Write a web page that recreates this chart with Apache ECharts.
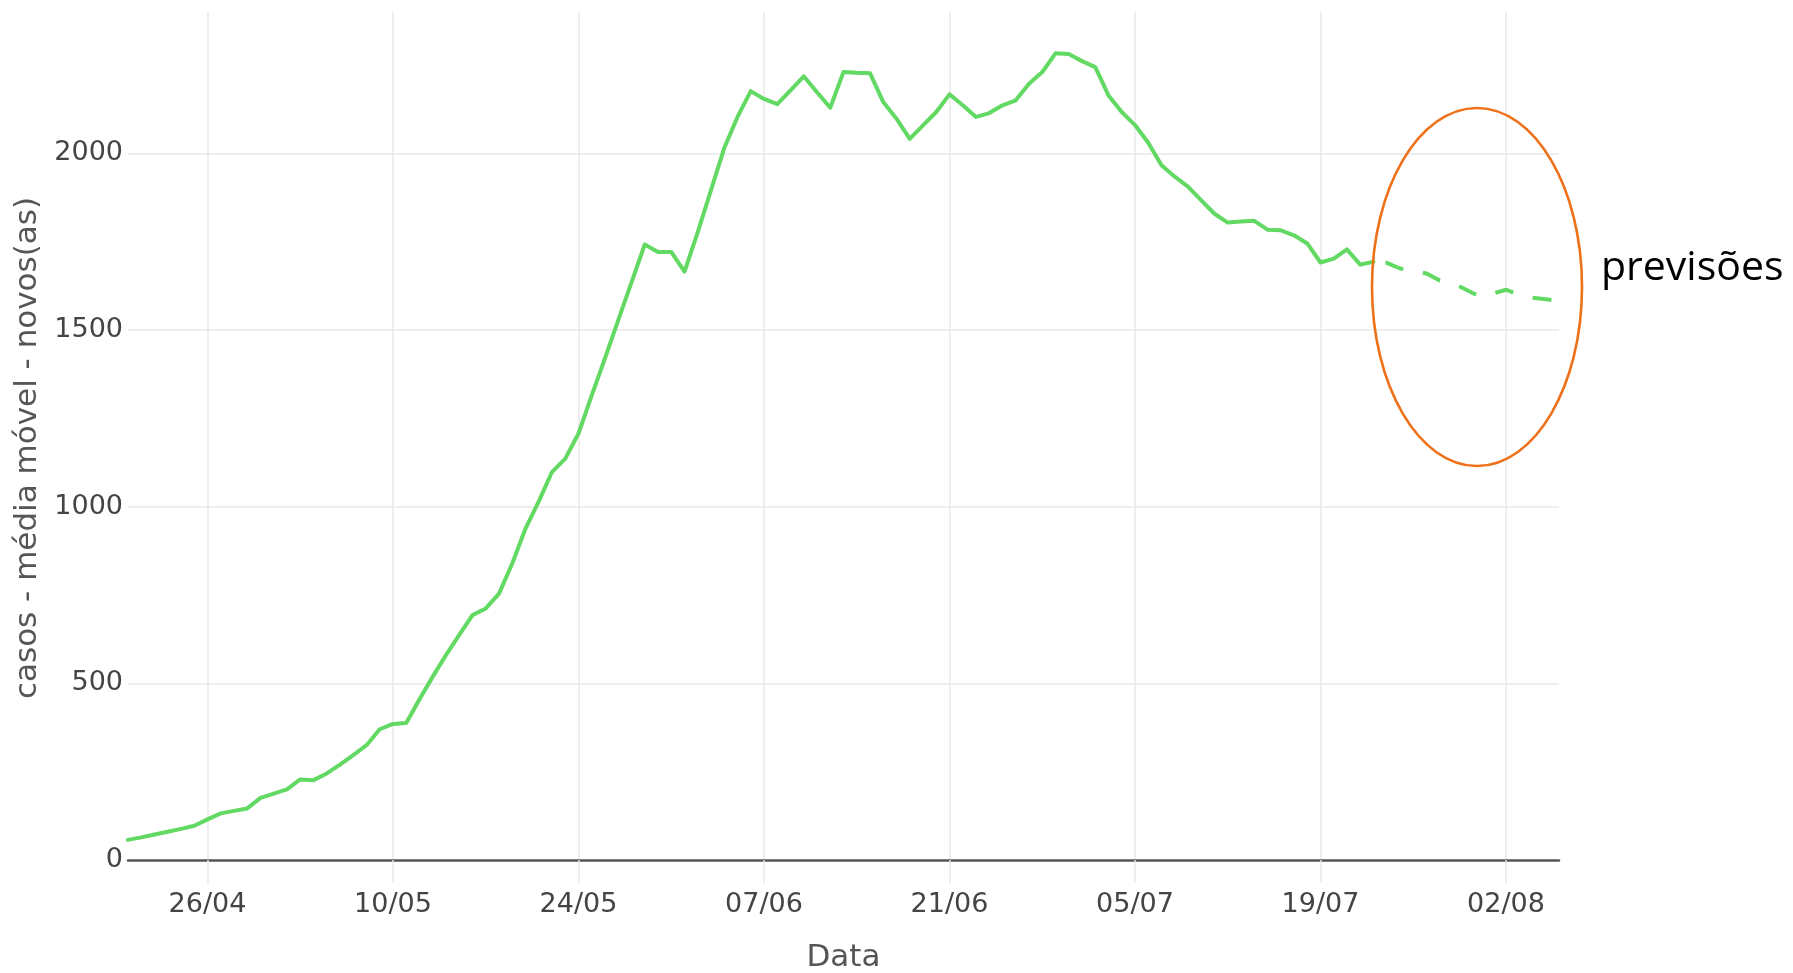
<!DOCTYPE html>
<html>
<head>
<meta charset="utf-8">
<script src="https://cdn.jsdelivr.net/npm/echarts@6/dist/echarts.min.js"></script>
<style>
    html, body { margin: 0; padding: 0; background: #fff; }
    #chart { width: 1793px; height: 973px; }
</style>
</head>
<body>
<div id="chart"></div>
<script>
// daily moving average of new cases, 20/04 .. 23/07
var CASOS = [
    57, 64, 72, 80, 88, 97, 115, 132, 139, 146,
    176, 188, 200, 228, 226, 245, 270, 297, 325, 370,
    385, 388, 455, 519, 580, 637, 693, 712, 754, 839,
    938, 1015, 1098, 1136, 1207, 1315, 1420, 1528, 1635, 1742,
    1721, 1721, 1665, 1777, 1896, 2015, 2103, 2176, 2154, 2139,
    2178, 2218, 2173, 2129, 2230, 2228, 2227, 2145, 2098, 2041,
    2079, 2117, 2167, 2136, 2103, 2114, 2136, 2150, 2197, 2230,
    2283, 2281, 2261, 2244, 2164, 2117, 2080, 2030, 1966, 1934,
    1906, 1867, 1829, 1804, 1807, 1809, 1784, 1782, 1768, 1745,
    1691, 1702, 1728, 1685, 1693
];
// forecast, 23/07 .. 06/08
var PREVISOES = [1693, 1690, 1674, 1667, 1660, 1640, 1632, 1614, 1595, 1603, 1614, 1599, 1591, 1587, 1582];

var TICK_LABELS = ['26/04', '10/05', '24/05', '07/06', '21/06', '05/07', '19/07', '02/08'];
var Y_TICKS = [0, 500, 1000, 1500, 2000];

var FIRST_DAY = new Date(2020, 3, 20);
var N_DAYS = CASOS.length + PREVISOES.length - 1;

var GREEN = '#62d962';
var GRID_COLOR = '#e9e9e9';
var FONT = 'DejaVu Sans';

function two(n){
    return (n < 10 ? '0' : '') + n;
}

function build_dates(start, n){
    var out = [];
    for (var i = 0; i < n; i++) {
        var d = new Date(start.getFullYear(), start.getMonth(), start.getDate() + i);
        out.push(two(d.getDate()) + '/' + two(d.getMonth() + 1));
    }
    return out;
}

function pad_series(values, offset, n){
    var out = [];
    for (var i = 0; i < n; i++) {
        var j = i - offset;
        out.push(j >= 0 && j < values.length ? values[j] : null);
    }
    return out;
}

function is_tick(index, value){
    return TICK_LABELS.indexOf(value) >= 0;
}

var dates = build_dates(FIRST_DAY, N_DAYS);

var options = {
    animation: false,
    grid: { left: 128, right: 234, top: 12, bottom: 113, containLabel: false, outerBoundsMode: 'none' },
    xAxis: {
        type: 'category',
        data: dates,
        boundaryGap: false,
        name: 'Data',
        nameLocation: 'middle',
        nameGap: 82,
        nameTextStyle: { fontFamily: FONT, fontSize: 31, color: '#555' },
        axisLine: { show: true, lineStyle: { color: '#555', width: 2.5 } },
        axisTick: { show: true, interval: is_tick, length: 23, lineStyle: { color: GRID_COLOR, width: 1.5 } },
        axisLabel: { interval: is_tick, margin: 31, fontFamily: FONT, fontSize: 27, color: '#444' },
        splitLine: { show: true, interval: is_tick, lineStyle: { color: GRID_COLOR, width: 1.5 } }
    },
    yAxis: {
        type: 'value',
        min: Y_TICKS[0],
        max: 2400,
        interval: Y_TICKS[1] - Y_TICKS[0],
        name: 'casos - média móvel - novos(as)',
        nameLocation: 'middle',
        nameGap: 80,
        nameRotate: 90,
        nameTextStyle: { fontFamily: FONT, fontSize: 31, color: '#555', padding: [0, 24, 0, 0] },
        axisLine: { show: false },
        axisTick: { show: false },
        axisLabel: {
            margin: 5, fontFamily: FONT, fontSize: 27, color: '#444',
            showMaxLabel: false,
            formatter: function (v) { return Y_TICKS.indexOf(v) >= 0 ? String(v) : ''; }
        },
        splitLine: { show: true, showMinLine: false, showMaxLine: false, lineStyle: { color: GRID_COLOR, width: 1.5 } }
    },
    series: [
        {
            type: 'line',
            name: 'casos',
            data: pad_series(CASOS, 0, N_DAYS),
            symbol: 'none',
            lineStyle: { color: GREEN, width: 4, cap: 'round', join: 'round' },
            z: 3
        },
        {
            type: 'line',
            name: 'previsões',
            data: pad_series(PREVISOES, CASOS.length - 1, N_DAYS),
            symbol: 'none',
            lineStyle: { color: GREEN, width: 4, type: [19, 20], dashOffset: 27, join: 'round' },
            z: 3
        }
    ],
    graphic: [
        {
            type: 'ellipse',
            shape: { cx: 1477, cy: 287, rx: 105, ry: 179 },
            style: { fill: 'none', stroke: '#ee7119', lineWidth: 2.6 },
            z: 10
        },
        {
            type: 'text',
            left: 1601,
            top: 248,
            style: { text: 'previsões', fill: '#000', font: '41px "Open Sans"' },
            z: 10
        }
    ]
};

var chart = echarts.init(document.getElementById('chart'), null, { renderer: 'canvas' });
chart.setOption(options);
</script>
</body>
</html>
